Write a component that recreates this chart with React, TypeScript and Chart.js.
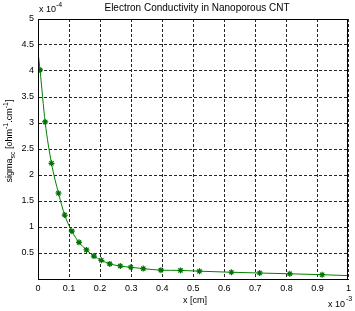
import React, { useEffect, useRef } from "react";
import { Chart, registerables } from "chart.js";

Chart.register(...registerables);

const TITLE = "Electron Conductivity in Nanoporous CNT";
const X_LABEL = "x [cm]";
const X_TICKS = [0, 0.1, 0.2, 0.3, 0.4, 0.5, 0.6, 0.7, 0.8, 0.9, 1];
const Y_TICKS = [0.5, 1, 1.5, 2, 2.5, 3, 3.5, 4, 4.5, 5];
// x in units of 1e-3 cm, sigma in units of 1e-4
const xValues = [0, 0.0065, 0.023, 0.0435, 0.066, 0.086, 0.109, 0.132, 0.156, 0.18, 0.204, 0.231, 0.265, 0.299, 0.339, 0.396, 0.459, 0.52, 0.623, 0.714, 0.811, 0.915, 1.0];
const sigmaValues = [4.37, 4.02, 3.02, 2.225, 1.65, 1.23, 0.92, 0.705, 0.56, 0.44, 0.36, 0.29, 0.25, 0.225, 0.2, 0.17, 0.165, 0.15, 0.13, 0.115, 0.1, 0.083, 0.065];
const markerShown = [false, true, true, true, true, true, true, true, true, true, true, true, true, true, true, true, true, true, true, true, true, true, false];

const FONT = "'Liberation Sans', Arial, sans-serif";

const textPlugin = {
  id: "textPlugin",
  afterDraw(chart: any) {
    const ctx = chart.ctx as CanvasRenderingContext2D;
    const a = chart.chartArea;
    ctx.save();
    ctx.strokeStyle = "#000";
    ctx.lineWidth = 1;
    ctx.setLineDash([]);
    ctx.strokeRect(Math.round(a.left) + 0.5, Math.round(a.top) + 0.5, Math.round(a.right - a.left) - 1, Math.round(a.bottom - a.top));
    ctx.fillStyle = "#000";
    ctx.font = `10px ${FONT}`;
    ctx.textAlign = "center";
    ctx.textBaseline = "middle";
    ctx.fillText(TITLE, 197, 8);
    ctx.font = `9px ${FONT}`;
    ctx.fillText(X_LABEL, 195, 301);
    ctx.textAlign = "left";
    ctx.font = `9px ${FONT}`;
    ctx.fillText("x 10", 39, 10);
    ctx.font = `7px ${FONT}`;
    ctx.fillText("-4", 56, 5);
    ctx.font = `9px ${FONT}`;
    ctx.fillText("x 10", 328, 305);
    ctx.font = `7px ${FONT}`;
    ctx.fillText("-3", 346, 299);
    const parts: [string, string][] = [
      ["sigma", "n"],
      ["sc", "sub"],
      [" [ohm", "n"],
      ["-1", "sup"],
      [".cm", "n"],
      ["-1", "sup"],
      ["]", "n"],
    ];
    const fontFor = (k: string) => (k === "n" ? `9px ${FONT}` : `7px ${FONT}`);
    let total = 0;
    for (const [t, k] of parts) {
      ctx.font = fontFor(k);
      total += ctx.measureText(t).width;
    }
    ctx.translate(9, 141);
    ctx.rotate(-Math.PI / 2);
    let x = -total / 2;
    ctx.textBaseline = "alphabetic";
    for (const [t, k] of parts) {
      ctx.font = fontFor(k);
      const dy = k === "sub" ? 3 : k === "sup" ? -4 : 0;
      ctx.fillText(t, x, 3 + dy);
      x += ctx.measureText(t).width;
    }
    ctx.restore();
  },
};

export default function App() {
  const ref = useRef<HTMLCanvasElement | null>(null);
  useEffect(() => {
    if (!ref.current) return;
    const green = "rgb(0,128,0)";
    const gridColor = "#262626";
    const chart = new Chart(ref.current, {
      type: "line",
      data: {
        datasets: [
          {
            data: xValues.map((x, i) => ({ x, y: sigmaValues[i] })),
            borderColor: green,
            backgroundColor: green,
            borderWidth: 1,
            pointStyle: "star",
            pointRadius: markerShown.map((m) => (m ? 3 : 0)),
            pointBorderColor: "rgb(0,115,0)",
            pointBorderWidth: 1.2,
            cubicInterpolationMode: "monotone",
            fill: false,
          },
        ],
      },
      options: {
        responsive: false,
        animation: false,
        layout: { padding: { top: 19, right: 3, left: 0, bottom: 0 } },
        plugins: { legend: { display: false }, tooltip: { enabled: false }, title: { display: false } },
        scales: {
          x: {
            type: "linear",
            min: 0,
            max: 1,
            afterBuildTicks: (s: any) => {
              s.ticks = X_TICKS.map((v) => ({ value: v }));
            },
            afterFit: (s: any) => {
              s.height = 32;
            },
            grid: { color: gridColor, lineWidth: 1, drawTicks: false },
            border: { display: true, color: "#000", dash: [3, 2] },
            ticks: {
              color: "#000",
              font: { size: 9, family: FONT },
              padding: 4,
              maxRotation: 0,
              autoSkip: false,
              callback: (v: any) => String(v),
            },
          },
          y: {
            type: "linear",
            min: 0,
            max: 5,
            afterBuildTicks: (s: any) => {
              s.ticks = Y_TICKS.map((v) => ({ value: v }));
            },
            afterFit: (s: any) => {
              s.width = 38;
            },
            grid: { color: gridColor, lineWidth: 1, drawTicks: false },
            border: { display: true, color: "#000", dash: [3, 2] },
            ticks: {
              color: "#000",
              font: { size: 9, family: FONT },
              padding: 4,
              autoSkip: false,
              callback: (v: any) => String(v),
            },
          },
        },
      },
      plugins: [textPlugin],
    } as any);
    return () => chart.destroy();
  }, []);
  return (
    <div style={{ position: "fixed", left: 0, top: 0, width: 355, height: 311, background: "#fff" }}>
      <canvas ref={ref} width={355} height={311} />
    </div>
  );
}
